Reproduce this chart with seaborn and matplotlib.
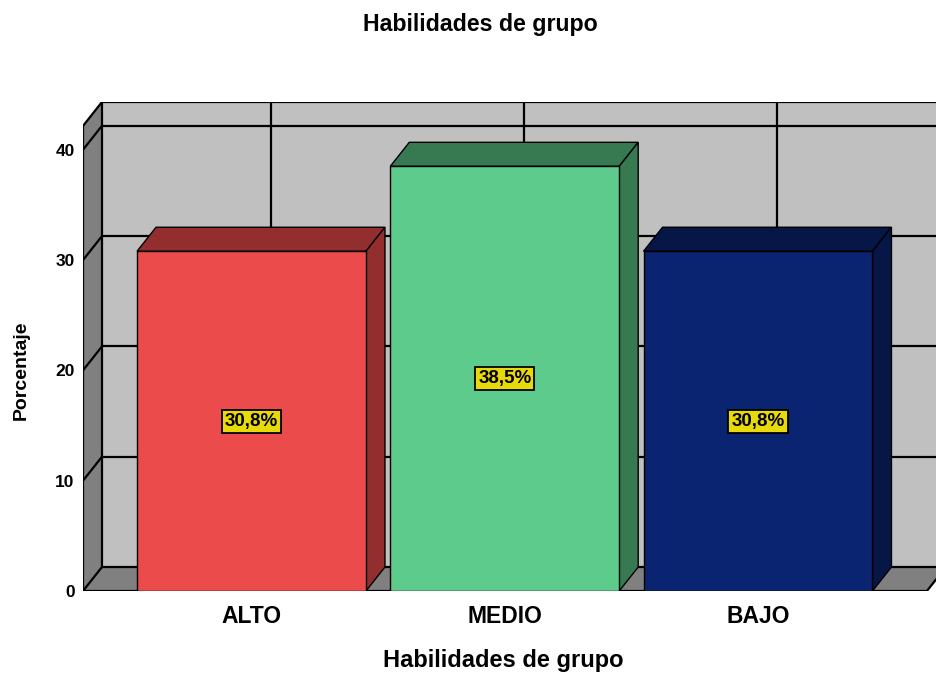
import matplotlib
matplotlib.use("Agg")
import matplotlib.pyplot as plt
import seaborn as sns
import pandas as pd
from matplotlib.patches import Polygon, Rectangle

# ---- data ----
categories = ["ALTO", "MEDIO", "BAJO"]
percentages = [30.8, 38.5, 30.8]
value_labels = ["30,8%", "38,5%", "30,8%"]
yticks = [0, 10, 20, 30, 40]
title = "Habilidades de grupo"
xlabel = "Habilidades de grupo"
ylabel = "Porcentaje"

front_colors = ["#ec4b4b", "#5ccb8b", "#0a2472"]
dark_colors = ["#922e2e", "#377a51", "#061747"]

plt.rcParams["font.family"] = ["Liberation Sans", "DejaVu Sans"]

W, H = 937, 674
fig = plt.figure(figsize=(W / 100, H / 100), dpi=100)
# axes = front plane region (pixels 83..937 horizontally, 102..591 vertically)
ax = fig.add_axes([83 / W, (H - 591) / H, (W - 83) / W, (591 - 102) / H])

df = pd.DataFrame({"cat": categories, "pct": percentages})
bar_w = 0.904
sns.barplot(data=df, x="cat", y="pct", hue="cat", order=categories,
            hue_order=categories, palette=front_colors, saturation=1,
            width=bar_w, edgecolor="black", linewidth=1.0, legend=False,
            ax=ax, zorder=5)

x0, x1 = -0.6654, 2.7068
y_top = 44.33
ax.set_xlim(x0, x1)
ax.set_ylim(0, y_top)
ymax = 42.16
dx, dy = 0.075, 2.176
xR = 2.667
back_gray = "#c0c0c0"
side_gray = "#808080"
lw = 1.6

# back wall
ax.add_patch(Rectangle((x0 + dx, dy), 5, ymax, facecolor=back_gray,
                       edgecolor="none", zorder=0.5))
# side wall
ax.add_patch(Polygon([(x0, 0), (x0 + dx, dy), (x0 + dx, ymax + dy), (x0, ymax)],
                     closed=True, facecolor=side_gray, edgecolor="none", zorder=0.6))
# floor
ax.add_patch(Polygon([(x0, 0), (x0 + dx, dy), (xR + dx, dy), (xR, 0)],
                     closed=True, facecolor=side_gray, edgecolor="none", zorder=0.6))

# back wall horizontal gridlines + top edge
for v in yticks + [ymax]:
    ax.plot([x0 + dx, x1 + 1], [v + dy, v + dy], color="black", lw=lw, zorder=1,
            solid_capstyle="butt")
# back wall vertical gridlines at category centres
for i in range(len(categories)):
    ax.plot([i + dx, i + dx], [dy, ymax + dy], color="black", lw=lw, zorder=1)
# back wall left edge
ax.plot([x0 + dx, x0 + dx], [dy, ymax + dy], color="black", lw=lw, zorder=1)
# side wall diagonals
for v in yticks + [ymax]:
    ax.plot([x0, x0 + dx], [v, v + dy], color="black", lw=lw, zorder=1)
# side wall front edge
ax.plot([x0, x0], [0, ymax], color="black", lw=lw, zorder=1)
# floor front edge and right diagonal
ax.plot([x0, xR], [0, 0], color="black", lw=lw, zorder=1)
ax.plot([xR, xR + dx], [0, dy], color="black", lw=lw, zorder=1)

# 3D faces of bars
for i, (h, dc) in enumerate(zip(percentages, dark_colors)):
    l, r = i - bar_w / 2, i + bar_w / 2
    ax.add_patch(Polygon([(l, h), (l + dx, h + dy), (r + dx, h + dy), (r, h)],
                         closed=True, facecolor=dc, edgecolor="black", lw=1.0, zorder=4))
    ax.add_patch(Polygon([(r, 0), (r + dx, dy), (r + dx, h + dy), (r, h)],
                         closed=True, facecolor=dc, edgecolor="black", lw=1.0, zorder=4))
    ax.text(i, h / 2, value_labels[i], ha="center", va="center", fontsize=13.5,
            fontweight="bold", color="black", zorder=7,
            bbox=dict(boxstyle="square,pad=0.16", facecolor="#e8d90a",
                      edgecolor="black", lw=1.3))

for s in ax.spines.values():
    s.set_visible(False)
ax.set_yticks(yticks)
ax.set_yticklabels([str(t) for t in yticks], fontsize=12.5, fontweight="bold")
ax.tick_params(axis="y", length=0, pad=6)
ax.set_xticks(range(len(categories)))
ax.set_xticklabels(categories, fontsize=16.5, fontweight="bold")
ax.tick_params(axis="x", length=0, pad=10)
ax.set_xlabel("")
ax.set_ylabel("")
ax.patch.set_visible(False)

fig.text(480 / W, 1 - 24 / H, title, ha="center", va="center", fontsize=16.7,
         fontweight="bold")
fig.text(503 / W, 1 - 660 / H, xlabel, ha="center", va="center", fontsize=17,
         fontweight="bold")
fig.text(21 / W, 1 - 370 / H, ylabel, ha="center", va="center", fontsize=14,
         fontweight="bold", rotation=90)

fig.savefig("out.png", dpi=100)
